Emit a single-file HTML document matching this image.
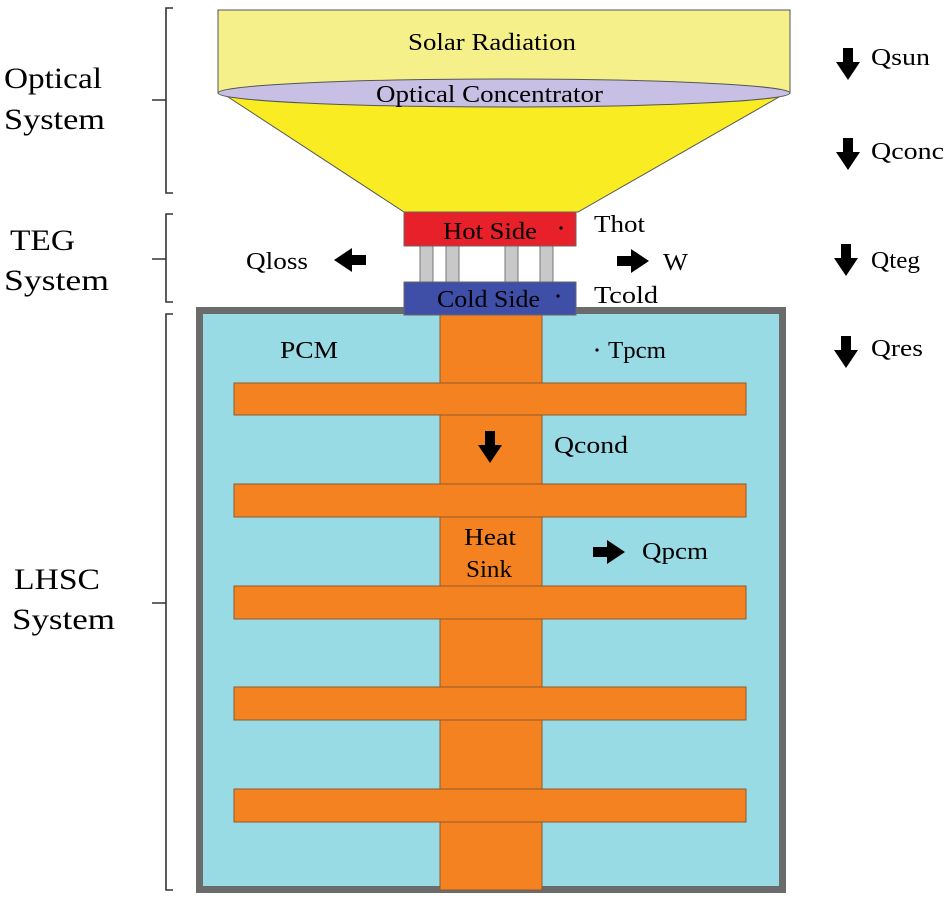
<!DOCTYPE html>
<html><head><meta charset="utf-8"><style>
html,body{margin:0;padding:0;background:#fff;}
svg{display:block;}
text{font-family:"Liberation Serif",serif;}
</style></head><body>
<svg width="950" height="904" viewBox="0 0 950 904" xmlns="http://www.w3.org/2000/svg">
<defs>
<path id="dn" d="M-5,0 H5 V14 H12 L0,32 L-12,14 H-5 Z" fill="#000"/>
<path id="rt" d="M0,-5 V5 H14 V12 L32,0 L14,-12 V-5 Z" fill="#000"/>
</defs>
<g stroke="#333" stroke-width="1.6" fill="none">
<path d="M173,8 H166 V193 H173 M152,100 H166"/>
<path d="M173,214 H166 V302 H173 M152,259 H166"/>
<path d="M173,314 H166 V890 H173 M152,603 H166"/>
</g>
<g font-size="30" fill="#000" lengthAdjust="spacingAndGlyphs">
<text x="4" y="88" textLength="98" lengthAdjust="spacingAndGlyphs">Optical</text>
<text x="4" y="129" textLength="101" lengthAdjust="spacingAndGlyphs">System</text>
<text x="10" y="250" textLength="65" lengthAdjust="spacingAndGlyphs">TEG</text>
<text x="4" y="290" textLength="105" lengthAdjust="spacingAndGlyphs">System</text>
<text x="14" y="589" textLength="86" lengthAdjust="spacingAndGlyphs">LHSC</text>
<text x="12" y="629" textLength="103" lengthAdjust="spacingAndGlyphs">System</text>
</g>
<polygon points="222,93 786,93 578,212 404,212" fill="#f9ec22" stroke="#555" stroke-width="1"/>
<rect x="218" y="10" width="572" height="83" fill="#f6f08a" stroke="#555" stroke-width="1"/>
<ellipse cx="504" cy="93" rx="286" ry="14" fill="#c8c0e4" stroke="#555" stroke-width="1"/>
<g font-size="24" fill="#000">
<text x="408" y="50" textLength="168" lengthAdjust="spacingAndGlyphs">Solar Radiation</text>
<text x="376" y="102" textLength="227" lengthAdjust="spacingAndGlyphs">Optical Concentrator</text>
</g>
<rect x="199.5" y="310.5" width="583" height="579" fill="#99dbe5" stroke="#6b6b6b" stroke-width="7"/>
<rect x="440" y="314" width="102" height="576" fill="#f58220" stroke="#8a5a30" stroke-width="1"/>
<g fill="#f58220" stroke="#8a5a30" stroke-width="1">
<rect x="234" y="383" width="512" height="32"/>
<rect x="234" y="484" width="512" height="33"/>
<rect x="234" y="586" width="512" height="33"/>
<rect x="234" y="687" width="512" height="33"/>
<rect x="234" y="789" width="512" height="33"/>
</g>
<g fill="#c8c8c8" stroke="#777" stroke-width="1">
<rect x="420" y="246" width="13" height="36"/>
<rect x="446" y="246" width="13" height="36"/>
<rect x="505" y="246" width="13" height="36"/>
<rect x="540" y="246" width="13" height="36"/>
</g>
<rect x="404" y="212" width="172" height="34" fill="#e8202a" stroke="#666" stroke-width="1"/>
<rect x="404" y="282" width="172" height="33" fill="#3f4fa8" stroke="#666" stroke-width="1"/>
<g font-size="24" fill="#000">
<text x="443" y="239" textLength="94" lengthAdjust="spacingAndGlyphs">Hot Side</text>
<text x="437" y="307" textLength="103" lengthAdjust="spacingAndGlyphs">Cold Side</text>
<circle cx="561" cy="228" r="1.6"/>
<circle cx="558" cy="296" r="1.6"/>
<text x="594" y="232" textLength="51" lengthAdjust="spacingAndGlyphs">Thot</text>
<text x="594" y="303" textLength="64" lengthAdjust="spacingAndGlyphs">Tcold</text>
<text x="246" y="269" textLength="62" lengthAdjust="spacingAndGlyphs">Qloss</text>
<text x="663" y="270" textLength="25" lengthAdjust="spacingAndGlyphs">W</text>
<text x="280" y="358" textLength="58" lengthAdjust="spacingAndGlyphs">PCM</text>
<circle cx="597" cy="350" r="1.6"/>
<text x="608" y="358" textLength="58" lengthAdjust="spacingAndGlyphs">Tpcm</text>
<text x="554" y="453" textLength="74" lengthAdjust="spacingAndGlyphs">Qcond</text>
<text x="464" y="545" textLength="52" lengthAdjust="spacingAndGlyphs">Heat</text>
<text x="466" y="577" textLength="46" lengthAdjust="spacingAndGlyphs">Sink</text>
<text x="642" y="559" textLength="66" lengthAdjust="spacingAndGlyphs">Qpcm</text>
<text x="871" y="65" textLength="59" lengthAdjust="spacingAndGlyphs">Qsun</text>
<text x="871" y="159" textLength="73" lengthAdjust="spacingAndGlyphs">Qconc</text>
<text x="871" y="268" textLength="49" lengthAdjust="spacingAndGlyphs">Qteg</text>
<text x="871" y="356" textLength="52" lengthAdjust="spacingAndGlyphs">Qres</text>
</g>
<use href="#rt" transform="translate(366,260) scale(-1,1)"/>
<use href="#rt" transform="translate(617,261)"/>
<use href="#dn" transform="translate(490,431)"/>
<use href="#rt" transform="translate(593,552)"/>
<use href="#dn" transform="translate(848,48)"/>
<use href="#dn" transform="translate(848,138)"/>
<use href="#dn" transform="translate(846,244)"/>
<use href="#dn" transform="translate(846,336)"/>
</svg>
</body></html>
